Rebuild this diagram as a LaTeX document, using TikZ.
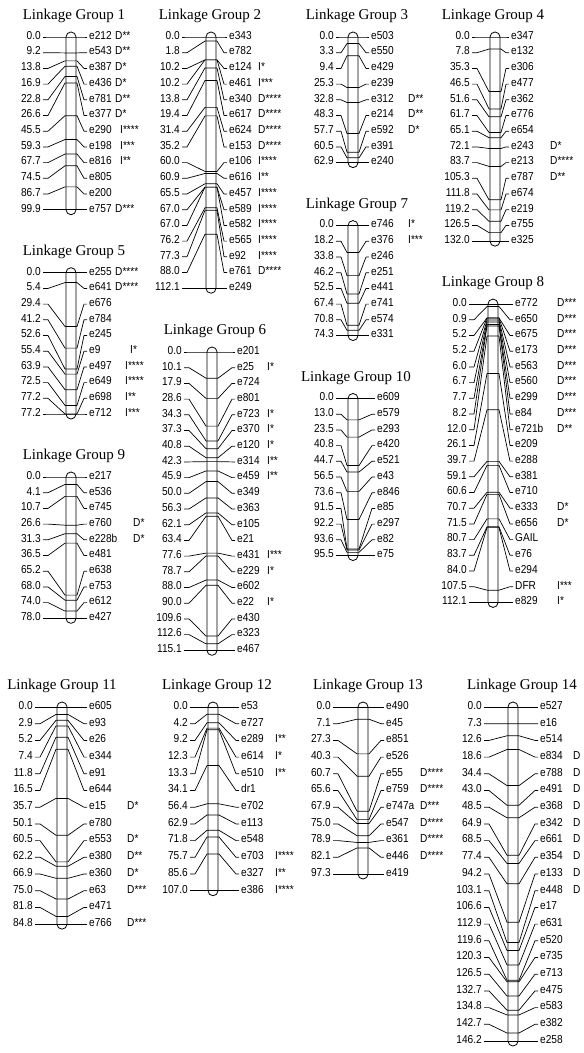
\documentclass[tikz,border=0pt]{standalone}
\usepackage{fontspec}
\setmainfont{Liberation Serif}
\newfontfamily\labfont[FakeStretch=0.88]{Liberation Sans}
\newcommand\lggeom[8]{\def\lgL{#1}\def\lgCL{#2}\def\lgCR{#3}\def\lgR{#4}\def\lgA{#5}\def\lgY{#6}\def\lgS{#7}\def\lgN{#8}}
\newcommand\lgdraw[5]{%
  \pgfmathsetmacro\lgYN{\lgY+(\lgN-1)*\lgS}%
  \pgfmathsetmacro\lgTY{\lgY-21}%
  \node[ttl] (t#1) at (#3,\lgTY) {#2};%
  \pgfmathsetmacro\lgYa{\lgY-5}\pgfmathsetmacro\lgYb{\lgYN+5}%
  \draw[chrom] (\lgCL,\lgYa) rectangle (\lgCR,\lgYb);%
  \foreach \mkc/\mkn/\mka/\mkd [count=\mki from 0] in {#5}{%
    \pgfmathsetmacro\mkry{\lgY+\mki*\lgS}%
    \pgfmathsetmacro\mkty{\lgY+\mkc/#4*(\lgYN-\lgY)}%
    \node[lab,anchor=mid east] (g#1-l-\mki) at (\lgL,\mkry) {\mkc};%
    \node[lab,anchor=mid west] (g#1-r-\mki) at (\lgR,\mkry) {\mkn};%
    \ifx\mka\empty\else\node[lab,anchor=mid west] (g#1-n-\mki) at (\lgA+\mkd,\mkry) {\mka};\fi
    \coordinate (g#1-la-\mki) at (\lgL+2,\mkry);%
    \coordinate (g#1-lb-\mki) at (\lgL+7,\mkry);%
    \coordinate (g#1-ta-\mki) at (\lgCL-1,\mkty);%
    \coordinate (g#1-tb-\mki) at (\lgCL,\mkty);%
    \coordinate (g#1-tc-\mki) at (\lgCR,\mkty);%
    \coordinate (g#1-td-\mki) at (\lgCR+1,\mkty);%
    \coordinate (g#1-rb-\mki) at (\lgR-5,\mkry);%
    \coordinate (g#1-ra-\mki) at (\lgR-2,\mkry);%
    \draw[conn] (g#1-la-\mki) -- (g#1-lb-\mki) -- (g#1-ta-\mki) -- (g#1-tb-\mki) -- (g#1-tc-\mki) -- (g#1-td-\mki) -- (g#1-rb-\mki) -- (g#1-ra-\mki);%
  }%
}
\begin{document}
\begin{tikzpicture}[x=1pt,y=-1pt,
  lab/.style={font=\labfont\fontsize{11.5}{13}\selectfont,inner sep=0pt},
  ttl/.style={font=\fontsize{15}{17}\selectfont,inner sep=0pt},
  chrom/.style={draw,line width=0.8pt,rounded corners=4.9pt},
  conn/.style={line width=0.7pt,line join=round}]
\useasboundingbox[fill=white] (0,0) rectangle (584,1053);

% ---------- column 1 ----------
\lggeom{41}{66}{76}{89}{115}{37}{15.7}{12}
\lgdraw{1}{Linkage Group 1}{74}{99.9}{0.0/e212/D**/0, 9.2/e543/D**/0, 13.8/e387/D*/0, 16.9/e436/D*/0, 22.8/e781/D**/0, 26.6/e377/D*/0, 45.5/e290/I****/5, 59.3/e198/I***/5, 67.7/e816/I**/5, 74.5/e805//0, 86.7/e200//0, 99.9/e757/D***/0}

\lggeom{41}{66}{76}{89}{115}{272.7}{15.7}{10}
\lgdraw{5}{Linkage Group 5}{74}{77.2}{0.0/e255/D****/0, 5.4/e641/D****/0, 29.4/e676//0, 41.2/e784//0, 52.6/e245//0, 55.4/e9/I*/15, 63.9/e497/I****/10, 72.5/e649/I****/10, 77.2/e698/I**/10, 77.2/e712/I***/10}

\lggeom{41}{66}{76}{89}{133}{477}{15.7}{10}
\lgdraw{9}{Linkage Group 9}{74}{78.0}{0.0/e217//0, 4.1/e536//0, 10.7/e745//0, 26.6/e760/D*/0, 31.3/e228b/D*/0, 36.5/e481//0, 65.2/e638//0, 68.0/e753//0, 74.0/e612//0, 78.0/e427//0}

% ---------- column 2 ----------
\lggeom{180}{206}{216}{229}{258}{37}{15.7}{17}
\lgdraw{2}{Linkage Group 2}{210}{112.1}{0.0/e343//0, 1.8/e782//0, 10.2/e124/I*/0, 10.2/e461/I***/0, 13.8/e340/D****/0, 19.4/e617/D****/0, 31.4/e624/D****/0, 35.2/e153/D****/0, 60.0/e106/I****/0, 60.9/e616/I**/0, 65.5/e457/I****/0, 67.0/e589/I****/0, 67.0/e582/I****/0, 76.2/e565/I****/0, 77.3/e92/I****/0, 88.0/e761/D****/0, 112.1/e249//0}

\lggeom{182}{207}{217}{237}{267}{352}{15.7}{20}
\lgdraw{6}{Linkage Group 6}{215}{115.1}{0.0/e201//0, 10.1/e25/I*/0, 17.9/e724//0, 28.6/e801//0, 34.3/e723/I*/0, 37.3/e370/I*/0, 40.8/e120/I*/0, 42.3/e314/I**/0, 45.9/e459/I**/0, 50.0/e349//0, 56.3/e363//0, 62.1/e105//0, 63.4/e21//0, 77.6/e431/I***/0, 78.7/e229/I*/0, 88.0/e602//0, 90.0/e22/I*/0, 109.6/e430//0, 112.6/e323//0, 115.1/e467//0}

% ---------- column 3 ----------
\lggeom{334}{348}{358}{371}{408}{37}{15.7}{9}
\lgdraw{3}{Linkage Group 3}{357}{62.9}{0.0/e503//0, 3.3/e550//0, 9.4/e429//0, 25.3/e239//0, 32.8/e312/D**/0, 48.3/e214/D**/0, 57.7/e592/D*/0, 60.5/e391//0, 62.9/e240//0}

\lggeom{334}{348}{358}{371}{408}{225.6}{15.7}{8}
\lgdraw{7}{Linkage Group 7}{357}{74.3}{0.0/e746/I*/0, 18.2/e376/I***/0, 33.8/e246//0, 46.2/e251//0, 52.5/e441//0, 67.4/e741//0, 70.8/e574//0, 74.3/e331//0}

\lggeom{334}{348}{358}{377}{410}{398.5}{15.7}{11}
\lgdraw{10}{Linkage Group 10}{356}{95.5}{0.0/e609//0, 13.0/e579//0, 23.5/e293//0, 40.8/e420//0, 44.7/e521//0, 56.5/e43//0, 73.6/e846//0, 91.5/e85//0, 92.2/e297//0, 93.6/e82//0, 95.5/e75//0}

% ---------- column 4 ----------
\lggeom{470}{490}{500}{511}{550}{37}{15.7}{14}
\lgdraw{4}{Linkage Group 4}{493}{132.0}{0.0/e347//0, 7.8/e132//0, 35.3/e306//0, 46.5/e477//0, 51.6/e362//0, 61.7/e776//0, 65.1/e654//0, 72.1/e243/D*/0, 83.7/e213/D****/0, 105.3/e787/D**/0, 111.8/e674//0, 119.2/e219//0, 126.5/e755//0, 132.0/e325//0}

\lggeom{467}{488}{498}{515}{557}{304.1}{15.7}{20}
\lgdraw{8}{Linkage Group 8}{493}{112.1}{0.0/e772/D***/0, 0.9/e650/D***/0, 5.2/e675/D***/0, 5.2/e173/D***/0, 6.0/e563/D***/0, 6.7/e560/D***/0, 7.7/e299/D***/0, 8.2/e84/D***/0, 12.0/e721b/D**/0, 26.1/e209//0, 39.7/e288//0, 59.1/e381//0, 60.6/e710//0, 70.7/e333/D*/0, 71.5/e656/D*/0, 80.7/GAIL//0, 83.7/e76//0, 84.0/e294//0, 107.5/DFR/I***/0, 112.1/e829/I*/0}

% ---------- bottom row ----------
\lggeom{33}{57}{67}{89}{127}{707}{16.7}{14}
\lgdraw{11}{Linkage Group 11}{62}{84.8}{0.0/e605//0, 2.9/e93//0, 5.2/e26//0, 7.4/e344//0, 11.8/e91//0, 16.5/e644//0, 35.7/e15/D*/0, 50.1/e780//0, 60.5/e553/D*/0, 62.2/e380/D**/0, 66.9/e360/D*/0, 75.0/e63/D***/0, 81.8/e471//0, 84.8/e766/D***/0}

\lggeom{188}{208}{218}{241}{275}{707}{16.7}{12}
\lgdraw{12}{Linkage Group 12}{217}{107.0}{0.0/e53//0, 4.2/e727//0, 9.2/e289/I**/0, 12.3/e614/I*/0, 13.3/e510/I**/0, 34.1/dr1//0, 56.4/e702//0, 62.9/e113//0, 71.8/e548//0, 75.7/e703/I****/0, 85.6/e327/I**/0, 107.0/e386/I****/0}

\lggeom{331}{358}{368}{386}{420}{707}{16.7}{11}
\lgdraw{13}{Linkage Group 13}{368}{97.3}{0.0/e490//0, 7.1/e45//0, 27.3/e851//0, 40.3/e526//0, 60.7/e55/D****/0, 65.6/e759/D****/0, 67.9/e747a/D***/0, 75.0/e547/D****/0, 78.9/e361/D****/0, 82.1/e446/D****/0, 97.3/e419//0}

\lggeom{482}{508}{518}{540}{573}{707}{16.7}{21}
\lgdraw{14}{Linkage Group 14}{522}{146.2}{0.0/e527//0, 7.3/e16//0, 12.6/e514//0, 18.6/e834/D/0, 34.4/e788/D/0, 43.0/e491/D/0, 48.5/e368/D/0, 64.9/e342/D/0, 68.5/e661/D/0, 77.4/e354/D/0, 94.2/e133/D/0, 103.1/e448/D/0, 106.6/e17//0, 112.9/e631//0, 119.6/e520//0, 120.3/e735//0, 126.5/e713//0, 132.7/e475//0, 134.8/e583//0, 142.7/e382//0, 146.2/e258//0}
\end{tikzpicture}
\end{document}
